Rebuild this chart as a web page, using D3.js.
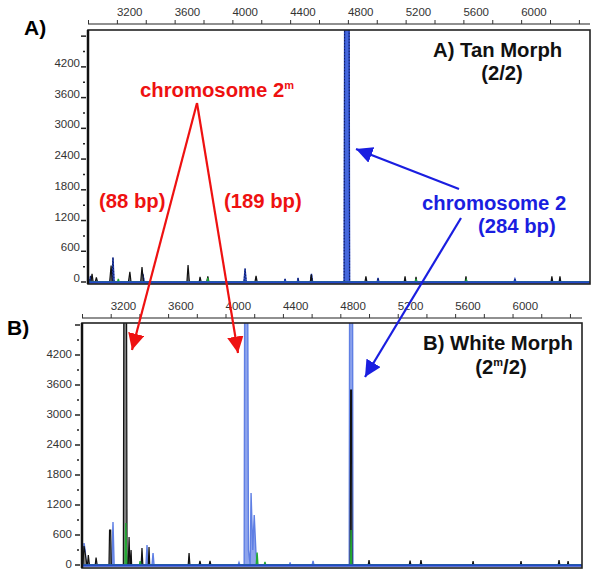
<!DOCTYPE html>
<html><head><meta charset="utf-8">
<script src="https://cdn.jsdelivr.net/npm/d3@7"></script>
<style>
html,body{margin:0;padding:0;background:#fff;}
svg{display:block;font-family:"Liberation Sans",Arial,sans-serif;}
</style></head>
<body>
<script>
// ---------- DATA ----------
const xTickValues = [3200,3600,4000,4400,4800,5200,5600,6000];
const xMinorTicks = [3000,3200,3400,3600,3800,4000,4200,4400,4600,4800,5000,5200,5400,5600,5800,6000,6200,6400];
const yTickValues = [0,600,1200,1800,2400,3000,3600,4200];
const yMinorTicks = [300,900,1500,2100,2700,3300,3900,4500];

// Panel A (Tan Morph) traces: [size (scan), RFU]
const aBlack = [[3000,0],[3020,0],[3028,160],[3036,0],[3050,0],[3058,90],[3066,0],[3150,0],[3160,320],[3168,0],[3280,0],[3290,200],[3298,0],[3365,0],[3374,290],[3384,0],[3685,0],[3693,330],[3702,0],[3770,0],[3776,100],[3784,0],[3822,0],[3830,110],[3838,0],[4156,0],[4164,120],[4172,0],[4540,0],[4546,140],[4552,0],[4918,0],[4925,110],[4932,0],[5190,0],[5196,110],[5202,0],[5266,0],[5272,100],[5278,0],[5612,0],[5618,110],[5624,0],[6207,0],[6213,110],[6219,0],[6263,0],[6269,110],[6275,0],[6480,0]];
const aBlue = [[3000,0],[3010,0],[3018,120],[3026,0],[3165,0],[3173,480],[3181,0],[3370,0],[3380,160],[3390,0],[4080,0],[4088,260],[4096,0],[4360,0],[4365,60],[4370,0],[4450,0],[4455,80],[4460,0],[4540,0],[4548,160],[4556,0],[4774,0],[4778,6000],[4808,6000],[4812,0],[5003,0],[5009,80],[5015,0],[5950,0],[5957,60],[5964,0],[6480,0]];
const aGreen = [[3000,0],[3205,0],[3210,60],[3215,0],[3825,0],[3830,80],[3835,0],[5268,0],[5272,60],[5276,0],[5615,0],[5620,40],[5625,0],[6480,0]];

// Panel B (White Morph) traces
const bBlack = [[3000,0],[3006,0],[3014,380],[3024,200],[3034,0],[3038,0],[3044,200],[3052,0],[3092,0],[3098,150],[3106,0],[3188,0],[3192,700],[3200,700],[3204,0],[3288,0],[3292,6000],[3310,6000],[3314,0],[3322,0],[3328,560],[3334,0],[3338,0],[3342,300],[3346,0],[3412,0],[3418,340],[3424,0],[3462,0],[3467,360],[3472,0],[3740,0],[3746,240],[3752,0],[3816,0],[3822,80],[3828,0],[3886,0],[3892,80],[3898,0],[4869,0],[4872,3500],[4878,3500],[4881,0],[4994,0],[5000,100],[5006,0],[5280,0],[5286,90],[5292,0],[5356,0],[5362,100],[5368,0],[5720,0],[5725,80],[5730,0],[6054,0],[6059,80],[6064,0],[6318,0],[6324,100],[6330,0],[6382,0],[6387,80],[6392,0],[6480,0]];
const bBlue = [[3000,0],[3008,0],[3014,440],[3022,300],[3030,0],[3208,0],[3216,860],[3224,0],[3446,0],[3453,400],[3460,0],[3488,0],[3495,240],[3502,0],[4088,0],[4094,50],[4100,0],[4130,0],[4134,6000],[4154,6000],[4160,300],[4172,0],[4178,1440],[4190,300],[4200,1000],[4212,250],[4222,0],[4446,0],[4450,50],[4454,0],[4604,0],[4610,80],[4616,0],[4862,0],[4865,6000],[4885,6000],[4888,0],[6480,0]];
const bGreen = [[3000,0],[3300,0],[3305,840],[3312,0],[3400,0],[3405,80],[3410,0],[4214,0],[4220,250],[4226,0],[4270,0],[4275,60],[4280,0],[4872,0],[4875,700],[4878,0],[6480,0]];

// ---------- DRAW ----------
const W = 600, H = 582;
const svg = d3.select("body").append("svg").attr("width", W).attr("height", H);

const panels = [
  {id:"A", x0:88, x1:590, yTop:30, yZero:282, yBot:284, axisY:24, xMax:6477, yMax:4920,
   black:aBlack, blue:aBlue, green:aGreen, blueFill:"#4668dc", blueStroke:"#2440c0", labelDX:-8, labelDY:0,
   tickLblY:16},
  {id:"B", x0:82, x1:582, yTop:323, yZero:565, yBot:568, axisY:318, xMax:6484, yMax:4840,
   black:bBlack, blue:bBlue, green:bGreen, blueFill:"#8ea4ec", blueStroke:"#5f7fe4", labelDX:-10, labelDY:3,
   tickLblY:310}
];

panels.forEach(p => {
  const x = d3.scaleLinear().domain([3000, p.xMax]).range([p.x0, p.x1]);
  const y = d3.scaleLinear().domain([0, p.yMax]).range([p.yZero, p.yTop]);
  const g = svg.append("g");
  const clipId = "clip" + p.id;
  svg.append("clipPath").attr("id", clipId).append("rect")
    .attr("x", p.x0).attr("y", p.yTop).attr("width", p.x1 - p.x0).attr("height", p.yBot - p.yTop + 1);

  // top axis
  const top = d3.axisTop(x).tickValues(xMinorTicks).tickSize(4).tickFormat("");
  const ta = g.append("g").attr("transform", `translate(0,${p.axisY})`).call(top);
  ta.select(".domain").attr("stroke", "#222").attr("stroke-width", 1.2).attr("d", `M${p.x0},0H${p.x1}`);
  ta.selectAll(".tick line").attr("stroke", "#333");
  g.selectAll(".xlbl").data(xTickValues).enter().append("text")
    .attr("x", d => x(d)).attr("y", p.tickLblY)
    .attr("font-size", 11.5).attr("fill", "#333").text(d => d);

  // left axis ticks & labels
  const yl = g.append("g");
  yl.selectAll("line.maj").data(yTickValues.concat([4800].filter(v => v < p.yMax))).enter().append("line")
    .attr("x1", p.x0 - 7).attr("x2", p.x0 - 2).attr("y1", d => y(d)).attr("y2", d => y(d))
    .attr("stroke", "#222").attr("stroke-width", 1.5);
  yl.selectAll("line.min").data(yMinorTicks).enter().append("line")
    .attr("x1", p.x0 - 5).attr("x2", p.x0 - 3).attr("y1", d => y(d)).attr("y2", d => y(d))
    .attr("stroke", "#222").attr("stroke-width", 1.5);
  yl.selectAll("text").data(yTickValues).enter().append("text")
    .attr("x", p.x0 + p.labelDX).attr("y", d => y(d) + p.labelDY)
    .attr("text-anchor", "end").attr("font-size", 11.5).attr("fill", "#333").text(d => d);

  // traces
  const area = d3.area().x(d => x(d[0])).y0(y(0)).y1(d => y(d[1]));
  const line = d3.line().x(d => x(d[0])).y(d => y(d[1]));
  const tr = g.append("g").attr("clip-path", `url(#${clipId})`);
  tr.append("path").datum(p.blue).attr("d", area).attr("fill", p.blueFill);
  tr.append("path").datum(p.blue).attr("d", line).attr("fill", "none").attr("stroke", p.blueStroke).attr("stroke-width", 1.4);
  if (p.id === "A") {
    tr.append("path").datum(p.blue).attr("d", line).attr("fill", "none").attr("stroke", "#10205a")
      .attr("stroke-width", 1).attr("stroke-dasharray", "1.5,1.5");
  }
  tr.append("path").datum(p.black).attr("d", area).attr("fill", "#808080");
  tr.append("path").datum(p.black).attr("d", line).attr("fill", "none").attr("stroke", "#111").attr("stroke-width", 1.2);
  tr.append("path").datum(p.green).attr("d", line).attr("fill", "none").attr("stroke", "#22aa33").attr("stroke-width", 1.4);
  // baseline
  tr.append("line").attr("x1", p.x0).attr("x2", p.x1).attr("y1", y(0) + 0.5).attr("y2", y(0) + 0.5)
    .attr("stroke", "#2448c8").attr("stroke-width", 2.5);

  // frame
  g.append("rect").attr("x", p.x0).attr("y", p.yTop).attr("width", p.x1 - p.x0).attr("height", p.yBot - p.yTop)
    .attr("fill", "none").attr("stroke", "#222").attr("stroke-width", 1.6);
  g.append("line").attr("x1", p.x0).attr("x2", p.x0).attr("y1", p.yTop).attr("y2", p.yBot)
    .attr("stroke", "#111").attr("stroke-width", 2.5);
});

// ---------- ANNOTATIONS ----------
const defs = svg.append("defs");
function marker(id, color) {
  defs.append("marker").attr("id", id).attr("viewBox", "0 0 10 10").attr("refX", 10).attr("refY", 5)
    .attr("markerWidth", 7.5).attr("markerHeight", 7.5).attr("markerUnits", "strokeWidth").attr("orient", "auto")
    .append("path").attr("d", "M0,0L10,5L0,10Z").attr("fill", color);
}
marker("arrRed", "#ee1111");
marker("arrBlue", "#1a1ee0");
const arrows = [
  {x1:197, y1:103, x2:132, y2:350, c:"#ee1111", m:"arrRed"},
  {x1:197, y1:103, x2:238, y2:353, c:"#ee1111", m:"arrRed"},
  {x1:459, y1:189, x2:356, y2:149, c:"#1a1ee0", m:"arrBlue"},
  {x1:461, y1:218, x2:365, y2:377, c:"#1a1ee0", m:"arrBlue"}
];
svg.selectAll("line.arrow").data(arrows).enter().append("line")
  .attr("x1", d => d.x1).attr("y1", d => d.y1).attr("x2", d => d.x2).attr("y2", d => d.y2)
  .attr("stroke", d => d.c).attr("stroke-width", 2.2).attr("marker-end", d => `url(#${d.m})`);

const FS = 20.3;
function txt(s, xx, yy, color, anchor, size) {
  return svg.append("text").attr("x", xx).attr("y", yy).attr("fill", color)
    .attr("text-anchor", anchor || "start").attr("font-size", size || FS).attr("font-weight", "bold").text(s);
}
txt("A)", 24, 35, "#000", "start", 21);
txt("B)", 7, 335, "#000", "start", 21);

const c2m = svg.append("text").attr("x", 140).attr("y", 97).attr("fill", "#ee1111").attr("font-size", FS).attr("font-weight", "bold");
c2m.append("tspan").text("chromosome 2");
c2m.append("tspan").attr("font-size", 11).attr("dy", -8).text("m");
txt("(88 bp)", 99, 208, "#ee1111");
txt("(189 bp)", 224, 208, "#ee1111");

txt("A) Tan Morph", 433, 57, "#111");
txt("(2/2)", 502, 80, "#111", "middle");
txt("chromosome 2", 422, 210, "#1a1ee0");
txt("(284 bp)", 478, 233, "#1a1ee0");
txt("B) White Morph", 423, 350, "#111");
const b2 = svg.append("text").attr("x", 501).attr("y", 374).attr("fill", "#111").attr("font-size", FS)
  .attr("font-weight", "bold").attr("text-anchor", "middle");
b2.append("tspan").text("(2");
b2.append("tspan").attr("font-size", 11).attr("dy", -8).text("m");
b2.append("tspan").attr("dy", 8).text("/2)");
</script>
</body></html>
